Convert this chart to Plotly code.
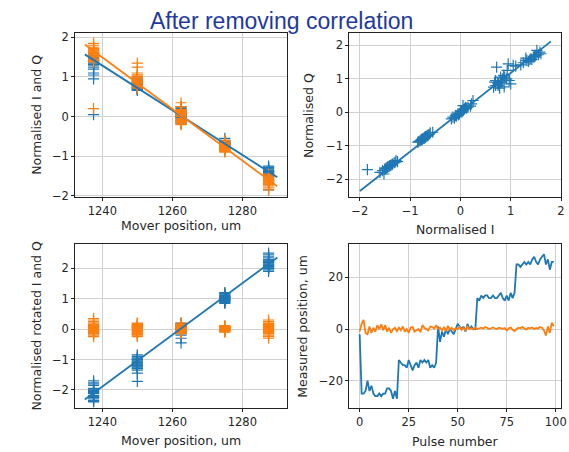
import plotly.graph_objects as go

# ---------------- data ----------------
positions = [1237.5, 1250.0, 1262.5, 1275.0, 1287.5]
pulses_per_position = 20
mover = [p for p in positions for _ in range(pulses_per_position)]
pulse_number = list(range(100))

norm_I = [
    0.05, 1.42, 1.30, 1.55, 1.20, 1.48, 1.10, 1.58, 1.35, 0.95, 1.50, 1.25, 1.60, 1.40, 1.05, 1.45, 1.32, 1.52, 1.47, 1.38,
    0.80, 0.75, 0.92, 0.70, 0.86, 0.97, 0.66, 0.82, 0.72, 0.88, 1.00, 0.78, 0.70, 0.84, 0.93, 0.75, 0.68, 0.87, 0.80, 0.74,
    0.05, -0.10, 0.15, -0.05, 0.00, 0.20, -0.15, 0.08, -0.02, 0.12, -0.08, 0.03, 0.25, -0.12, 0.06, -0.04, 0.10, -0.18, 0.02, 0.22,
    -0.70, -0.65, -0.78, -0.60, -0.72, -0.85, -0.68, -0.75, -0.55, -0.80, -0.66, -0.73, -0.62, -0.77, -0.70, -0.83, -0.64, -0.71, -0.69, -0.76,
    -1.40, -1.45, -1.30, -1.50, -1.35, -1.55, -1.25, -1.42, -1.48, -1.60, -1.38, -1.85, -1.44, -1.32, -1.52, -1.40, -1.28, -1.46, -1.36, -1.50,
]
norm_Q = [
    0.20, 1.58, 1.62, 1.72, 1.42, 1.66, 1.38, 1.80, 1.52, 1.45, 1.70, 1.48, 1.75, 1.60, 1.40, 1.65, 1.55, 1.85, 1.68, 1.57,
    0.90, 0.85, 1.00, 0.80, 1.10, 0.95, 0.75, 0.90, 1.35, 1.05, 0.85, 0.72, 0.95, 1.00, 1.25, 0.80, 0.90, 0.76, 1.05, 0.88,
    0.05, -0.10, 0.15, -0.05, 0.02, 0.18, -0.15, 0.10, -0.05, 0.12, -0.12, 0.00, 0.35, -0.18, 0.08, -0.08, 0.14, -0.20, 0.04, 0.25,
    -0.75, -0.70, -0.82, -0.62, -0.78, -0.90, -0.72, -0.80, -0.60, -0.85, -0.70, -0.78, -0.66, -0.83, -0.74, -0.88, -0.68, -0.76, -0.73, -0.80,
    -1.60, -1.65, -1.50, -1.70, -1.55, -1.75, -1.48, -1.62, -1.68, -1.80, -1.58, -1.72, -1.63, -1.52, -1.85, -1.60, -1.45, -1.66, -1.57, -1.70,
]
rot_I = [
    -0.15, -2.10, -2.05, -2.30, -1.85, -2.20, -1.75, -2.40, -2.00, -1.70, -2.25, -1.95, -2.35, -2.12, -1.80, -2.18, -2.02, -2.38, -2.22, -2.08,
    -1.10, -1.05, -1.25, -0.95, -1.20, -1.35, -0.90, -1.15, -1.30, -1.00, -1.45, -1.08, -0.85, -1.18, -1.28, -1.02, -1.72, -1.22, -1.12, -0.98,
    0.00, -0.10, 0.10, -0.20, 0.05, 0.20, -0.15, 0.08, -0.45, 0.12, -0.05, 0.02, 0.15, -0.12, 0.06, -0.30, 0.04, -0.08, 0.00, 0.18,
    1.00, 0.95, 1.10, 0.90, 1.05, 1.20, 0.85, 1.02, 0.92, 1.15, 0.98, 1.08, 0.88, 1.12, 1.00, 1.18, 0.94, 1.06, 0.97, 1.04,
    2.10, 2.20, 2.00, 2.30, 2.05, 2.40, 1.95, 2.15, 2.25, 2.50, 2.08, 2.35, 2.12, 1.90, 2.45, 2.18, 2.02, 2.28, 2.06, 2.22,
]
rot_Q = [
    0.10, -0.05, 0.15, 0.05, -0.10, 0.20, -0.20, 0.35, 0.00, -0.25, 0.10, -0.15, 0.25, 0.02, -0.08, 0.12, -0.02, 0.30, 0.08, -0.12,
    0.00, -0.10, 0.10, -0.05, 0.15, -0.20, 0.05, 0.20, -0.15, 0.02, -0.08, 0.12, -0.25, 0.08, -0.02, 0.18, -0.12, 0.04, -0.18, 0.06,
    0.00, 0.05, -0.05, 0.10, -0.10, 0.15, -0.15, 0.02, 0.20, -0.08, 0.08, -0.02, 0.12, -0.12, 0.04, -0.04, 0.06, -0.06, 0.00, 0.03,
    0.00, 0.03, -0.03, 0.05, -0.05, 0.08, -0.08, 0.02, 0.12, -0.10, 0.04, -0.02, 0.06, -0.06, 0.01, -0.04, 0.07, -0.01, 0.10, -0.07,
    0.00, 0.10, -0.10, 0.20, -0.20, 0.05, -0.05, 0.15, -0.15, 0.25, -0.25, 0.02, -0.30, 0.08, -0.08, 0.12, -0.12, 0.18, -0.02, 0.30,
]
measured_pos_I = [
    -2, -25, -25, -24, -20, -24, -22, -25, -26, -26, -25, -26, -25, -25, -23, -23, -24, -27, -24, -27,
    -12, -13, -14, -14, -15, -12, -14, -16, -14, -13, -15, -12, -13, -12, -13, -12, -15, -14, -15, -13,
    1, -5, -1, -3, 0, -2, 0, -1, -2, 0, 2, 1, 0, 1, -1, 2, 0, 1, 0, 0,
    12, 11, 13, 12, 13, 13, 12, 12, 13, 12, 12, 13, 14, 12, 11, 13, 11, 14, 12, 14,
    25, 25, 24, 25, 26, 25, 26, 25, 27, 28, 26, 25, 27, 28, 29, 25, 27, 23, 26, 26,
]
measured_pos_Q = [
    -1.0, 2.0, 3.5, -1.5, -2.0, 1.0, -1.5, 0.5, -1.0, 1.5, 0.0, 1.8, -0.5, 1.5, -1.0, 0.5, -1.5, 0.0, 0.5, -0.8,
    0.5, -0.5, 1.0, -1.0, 0.0, -1.5, 0.5, 0.8, -1.0, -0.5, 0.0, -1.2, 1.5, 0.5, 0.0, -0.5, 1.0, 0.8, 0.2, 1.5,
    0.0, 0.5, -0.5, 0.8, -0.8, 1.2, -0.2, 0.5, -0.5, 0.3, 0.0, 0.8, -0.3, 0.5, -0.5, 1.0, 0.0, 0.3, -0.2, 0.5,
    0.0, 0.3, 0.5, 0.2, 0.8, 0.5, 0.0, 0.3, 0.6, 0.2, 0.0, 0.5, 0.3, 0.1, 0.4, -0.5, 0.2, 0.6, -0.3, -0.8,
    0.0, 0.5, 0.3, 0.8, 0.2, -0.2, 0.5, 0.3, 0.6, 0.0, 0.4, 0.2, 0.8, 0.5, -0.5, -2.5, 1.0, -1.5, 2.5, 1.0,
]

# fit lines (end points)
fit_x = [1235.0, 1290.0]
fit_I = [1.57, -1.53]
fit_Q = [1.82, -1.76]
iq_fit_x = [-2.0, 1.8]
iq_fit_y = [-2.36, 2.12]
rot_fit_y = [-2.32, 2.36]

# tick labels
mover_ticks = [1240, 1260, 1280]
unit_ticks = [-2, -1, 0, 1, 2]
pulse_ticks = [0, 25, 50, 75, 100]
pos_ticks = [-20, 0, 20]

# ---------------- style ----------------
BLUE = "#1f77b4"
ORANGE = "#ff7f0e"
W, H = 569, 452
FONT = "DejaVu Sans"
TXT = "#262626"

def px_x(a, b):
    return [a / W, b / W]

def px_y(top, bottom):
    return [1 - bottom / H, 1 - top / H]

def cross(color):
    return dict(symbol="cross-thin", size=8, color=color, line=dict(width=1.2, color=color))

fig = go.Figure()

# top-left
fig.add_trace(go.Scatter(x=mover, y=norm_I, mode="markers", xaxis="x", yaxis="y",
                         marker=cross(BLUE), showlegend=False))
fig.add_trace(go.Scatter(x=mover, y=norm_Q, mode="markers", xaxis="x", yaxis="y",
                         marker=cross(ORANGE), showlegend=False))
fig.add_trace(go.Scatter(x=fit_x, y=fit_I, mode="lines", xaxis="x", yaxis="y",
                         line=dict(color=BLUE, width=1.8), showlegend=False))
fig.add_trace(go.Scatter(x=fit_x, y=fit_Q, mode="lines", xaxis="x", yaxis="y",
                         line=dict(color=ORANGE, width=1.8), showlegend=False))
# top-right
fig.add_trace(go.Scatter(x=norm_I, y=norm_Q, mode="markers", xaxis="x2", yaxis="y2",
                         marker=cross(BLUE), showlegend=False))
fig.add_trace(go.Scatter(x=iq_fit_x, y=iq_fit_y, mode="lines", xaxis="x2", yaxis="y2",
                         line=dict(color=BLUE, width=1.8), showlegend=False))
# bottom-left
fig.add_trace(go.Scatter(x=mover, y=rot_I, mode="markers", xaxis="x3", yaxis="y3",
                         marker=cross(BLUE), showlegend=False))
fig.add_trace(go.Scatter(x=mover, y=rot_Q, mode="markers", xaxis="x3", yaxis="y3",
                         marker=cross(ORANGE), showlegend=False))
fig.add_trace(go.Scatter(x=fit_x, y=rot_fit_y, mode="lines", xaxis="x3", yaxis="y3",
                         line=dict(color=BLUE, width=1.8), showlegend=False))
# bottom-right
fig.add_trace(go.Scatter(x=pulse_number, y=measured_pos_I, mode="lines", xaxis="x4", yaxis="y4",
                         line=dict(color=BLUE, width=1.8), showlegend=False))
fig.add_trace(go.Scatter(x=pulse_number, y=measured_pos_Q, mode="lines", xaxis="x4", yaxis="y4",
                         line=dict(color=ORANGE, width=1.8), showlegend=False))

common = dict(showline=True, mirror=True, linecolor="#222222", linewidth=1,
              ticks="outside", ticklen=3, tickwidth=1, tickcolor="#222222",
              showgrid=True, gridcolor="#d0d0d0", gridwidth=1, zeroline=False,
              tickfont=dict(family=FONT, size=11.5, color=TXT), tickmode="array",
              ticklabeloverflow="allow")

L = px_x(76, 290)
R = px_x(353, 567)
T = px_y(31, 198)
B = px_y(246, 413)

fig.update_layout(
    width=W, height=H, margin=dict(l=0, r=0, t=0, b=0),
    paper_bgcolor="white", plot_bgcolor="white",
    xaxis=dict(domain=L, anchor="y", range=[1232.25, 1292.75], tickvals=mover_ticks, **common),
    yaxis=dict(domain=T, anchor="x", range=[-2.03, 2.1], tickvals=unit_ticks, **common),
    xaxis2=dict(domain=R, anchor="y2", range=[-2.21, 2.0], tickvals=unit_ticks, **common),
    yaxis2=dict(domain=T, anchor="x2", range=[-2.54, 2.36], tickvals=unit_ticks, **common),
    xaxis3=dict(domain=L, anchor="y3", range=[1232.25, 1292.75], tickvals=mover_ticks, **common),
    yaxis3=dict(domain=B, anchor="x3", range=[-2.59, 2.8], tickvals=unit_ticks, **common),
    xaxis4=dict(domain=R, anchor="y4", range=[-5.3, 102.7], tickvals=pulse_ticks, **common),
    yaxis4=dict(domain=B, anchor="x4", range=[-30.5, 32.9], tickvals=pos_ticks, **common),
)

def ann(text, xpx, ypx, angle=0, size=12.5, color=TXT, family=FONT):
    fig.add_annotation(text=text, x=xpx / W, y=1 - ypx / H, xref="paper", yref="paper",
                       showarrow=False, textangle=angle, xanchor="center", yanchor="middle",
                       font=dict(family=family, size=size, color=color), borderpad=0)

ann("After removing correlation", 285, 18, size=23, color="#1f3a9e", family="Liberation Sans")
ann("Mover position, um", 183, 227)
ann("Normalised I", 460, 231)
ann("Mover position, um", 183, 446)
ann("Pulse number", 460, 447)
ann("Normalised I and Q", 37, 114.5, angle=-90)
ann("Normalised Q", 312, 114.5, angle=-90)
ann("Normalised rotated I and Q", 37, 329.5, angle=-90)
ann("Measured position, um", 306, 329.5, angle=-90)

fig.write_html("out.html")
